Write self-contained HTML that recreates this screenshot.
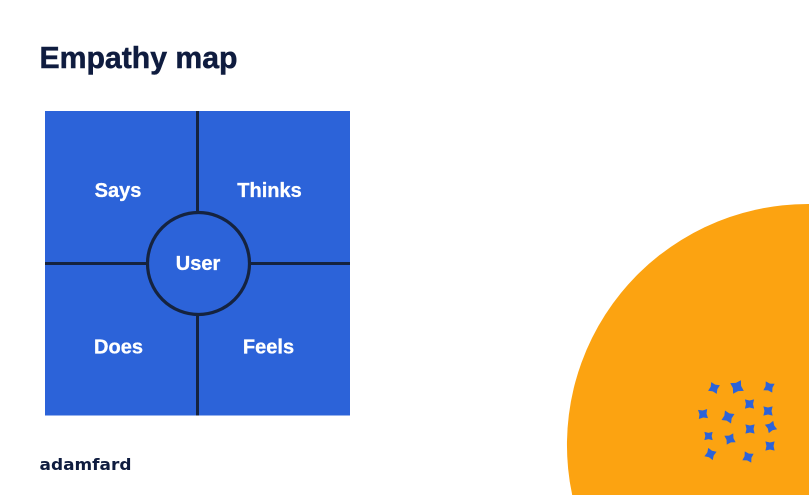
<!DOCTYPE html>
<html>
<head>
<meta charset="utf-8">
<style>
html,body{margin:0;padding:0;background:#fff;width:809px;height:495px;overflow:hidden;}
svg{position:absolute;left:0;top:0;display:block;}
text{font-family:"Liberation Sans",Arial,sans-serif;font-weight:700;}
</style>
</head>
<body>
<svg width="809" height="495" viewBox="0 0 809 495" xmlns="http://www.w3.org/2000/svg">
<defs>
<path id="s" d="M0,-6.5 L2.500,-2.500 L6.500,0 L2.500,2.500 L0,6.500 L-2.500,2.500 L-6.500,0 L-2.500,-2.500 Z"/>
</defs>
<rect width="809" height="495" fill="#fff"/>
<text x="39.500" y="68" font-size="30.500" fill="#0f1c3f" stroke="#0f1c3f" stroke-width=".5" textLength="198" lengthAdjust="spacingAndGlyphs">Empathy map</text>
<rect x="45" y="111" width="305" height="304.500" fill="#2c63d9"/>
<line x1="197.500" y1="111" x2="197.500" y2="415.500" stroke="#15233f" stroke-width="3"/>
<line x1="45" y1="263.500" x2="350" y2="263.500" stroke="#15233f" stroke-width="3"/>
<circle cx="198.500" cy="263.500" r="51" fill="#2c63d9" stroke="#15233f" stroke-width="3.200"/>
<g fill="#fff" stroke="#fff" stroke-width=".3" font-size="20" text-anchor="middle">
<text x="118" y="197">Says</text>
<text x="269.500" y="197">Thinks</text>
<text x="198" y="270">User</text>
<text x="118.500" y="353.500">Does</text>
<text x="268.500" y="353.500">Feels</text>
</g>
<text x="39.500" y="470" font-size="16" style="font-family:'DejaVu Sans',sans-serif" fill="#0f1c3f" textLength="92" lengthAdjust="spacingAndGlyphs">adamfard</text>
<path d="M809 204 A241 241 0 0 0 572.200 495 L809 495 Z" fill="#fca311"/>
<g fill="#2c63d9">
<use href="#s" transform="translate(714,388) rotate(65)"/>
<use href="#s" transform="translate(737,387) rotate(30) scale(1.2)"/>
<use href="#s" transform="translate(769,387) rotate(60)"/>
<use href="#s" transform="translate(749.500,404) rotate(45)"/>
<use href="#s" transform="translate(703,414) rotate(40)"/>
<use href="#s" transform="translate(728,417) rotate(65) scale(1.1)"/>
<use href="#s" transform="translate(768,411) rotate(45)"/>
<use href="#s" transform="translate(771,427) rotate(20)"/>
<use href="#s" transform="translate(750,429) rotate(45)"/>
<use href="#s" transform="translate(708.500,436) rotate(45) scale(.9)"/>
<use href="#s" transform="translate(730,439) rotate(30)"/>
<use href="#s" transform="translate(770,446) rotate(45)"/>
<use href="#s" transform="translate(710.500,454) rotate(-20)"/>
<use href="#s" transform="translate(748,457) rotate(60)"/>
</g>
</svg>
</body>
</html>
